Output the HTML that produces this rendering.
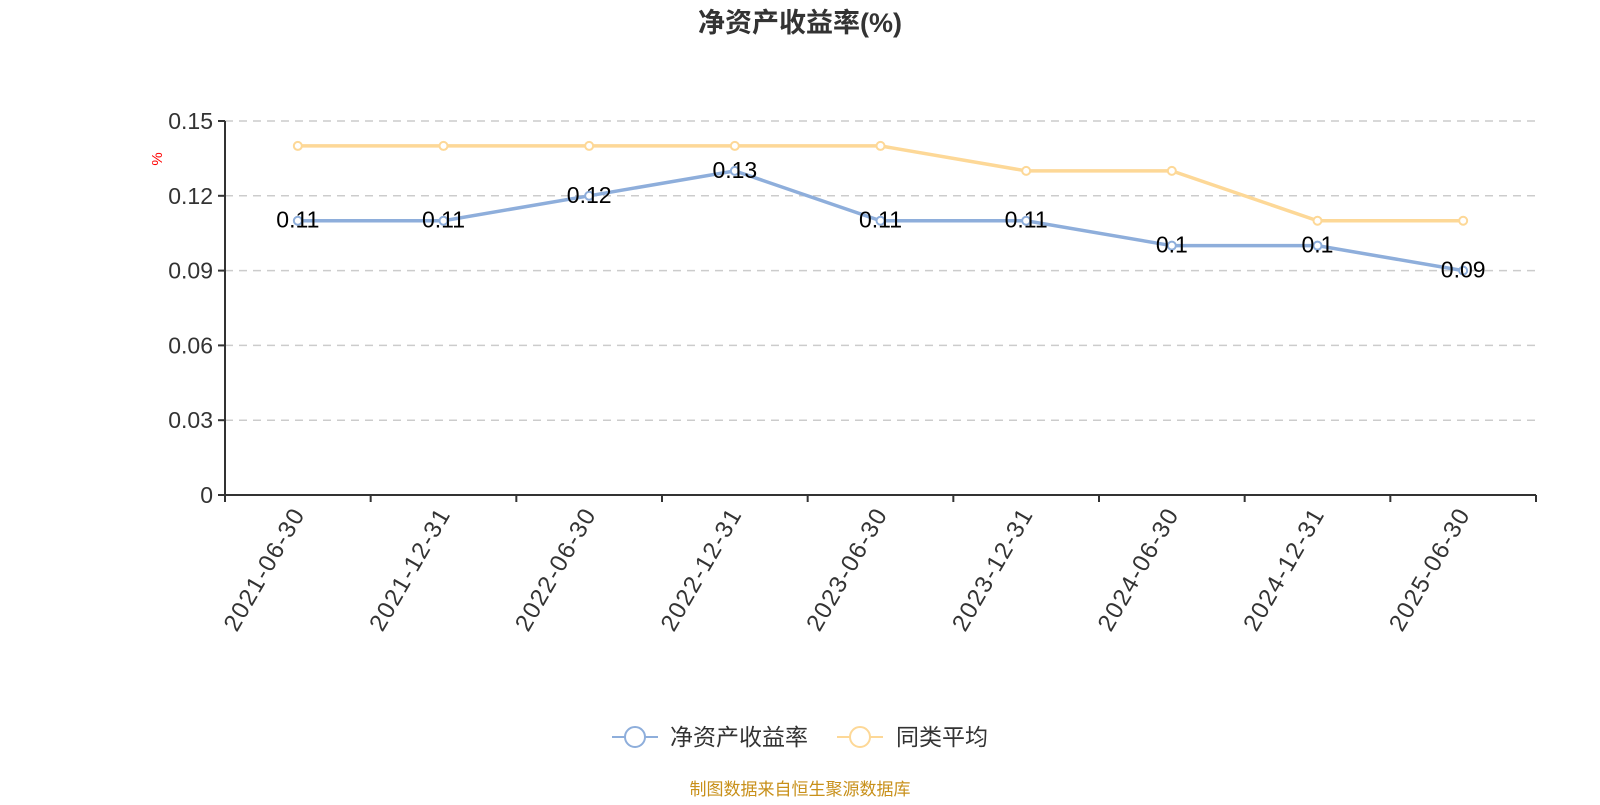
<!DOCTYPE html>
<html><head><meta charset="utf-8"><style>
body{margin:0;background:#fff;width:1600px;height:800px;overflow:hidden;font-family:"Liberation Sans","Noto Sans CJK SC",sans-serif}
</style></head><body>
<svg id="c" width="1600" height="800" xmlns="http://www.w3.org/2000/svg" font-family="Liberation Sans, Noto Sans CJK SC, sans-serif">
<text x="800" y="32" text-anchor="middle" font-size="27" font-weight="bold" fill="#333">净资产收益率(%)</text>
<text x="165" y="162" font-size="15" fill="red" transform="rotate(-90 162 162)" text-anchor="middle">%</text>
<g id="grid"></g><g id="axes"></g><g id="series"></g>
<g>
<g>
<line x1="612" y1="737" x2="658" y2="737" stroke="#8eaedb" stroke-width="2"/>
<circle cx="635" cy="737" r="10" fill="#fff" stroke="#8eaedb" stroke-width="2"/>
<text x="670" y="745" font-size="23" fill="#333">净资产收益率</text></g>
<g>
<line x1="837" y1="737" x2="883" y2="737" stroke="#fdd897" stroke-width="2"/>
<circle cx="860" cy="737" r="10" fill="#fff" stroke="#fdd897" stroke-width="2"/>
<text x="896" y="745" font-size="23" fill="#333">同类平均</text></g>
</g>
<text x="800" y="795" text-anchor="middle" font-size="17" fill="#c8901a">制图数据来自恒生聚源数据库</text>
</svg>
<script>
const categories=["2021-06-30","2021-12-31","2022-06-30","2022-12-31","2023-06-30","2023-12-31","2024-06-30","2024-12-31","2025-06-30"];
const roeValues=[0.11,0.11,0.12,0.13,0.11,0.11,0.1,0.1,0.09];
const avgValues=[0.14,0.14,0.14,0.14,0.14,0.13,0.13,0.11,0.11];
const yTicks=[0,0.03,0.06,0.09,0.12,0.15];
const yTickLabels=["0","0.03","0.06","0.09","0.12","0.15"];
const NS="http://www.w3.org/2000/svg";
const L=225,R=1536,T=121,B=495,yMax=0.15;
const bw=(R-L)/categories.length;
const xs=i=>L+bw*(i+0.5);
const ys=v=>B-(v/yMax)*(B-T);
function mk(tag,attrs,parent){const e=document.createElementNS(NS,tag);for(const k in attrs)e.setAttribute(k,attrs[k]);parent.appendChild(e);return e;}
const grid=document.getElementById('grid'),axes=document.getElementById('axes'),ser=document.getElementById('series');
yTicks.forEach((t,i)=>{
 const y=ys(t);
 if(t>0){const g=mk('line',{x1:L,x2:R,y1:y,y2:y,stroke:'#ccc','stroke-dasharray':'8,6','stroke-width':1.5},grid);
 
 }
 mk('line',{x1:L-7,x2:L,y1:y,y2:y,stroke:'#333','stroke-width':2},axes);
 const tx=mk('text',{x:L-12,y:y+8,'text-anchor':'end','font-size':23,fill:'#333'},axes);
 tx.textContent=yTickLabels[i];
 
 
});
mk('line',{x1:L,x2:L,y1:T,y2:B,stroke:'#333','stroke-width':2},axes);
mk('line',{x1:L,x2:R,y1:B,y2:B,stroke:'#333','stroke-width':2},axes);
for(let i=0;i<=categories.length;i++){const x=L+bw*i;mk('line',{x1:x,x2:x,y1:B,y2:B+7,stroke:'#333','stroke-width':2},axes);}
categories.forEach((c,i)=>{
 const x=xs(i),y=B+14;
 const t=mk('text',{x:x,y:y,'text-anchor':'end','font-size':24,'letter-spacing':1.5,fill:'#333',transform:`rotate(-60 ${x} ${y}) translate(0 9)`},axes);
 t.textContent=c;
 
 
});
function series(vals,color,name,labels){
 const p=mk('polyline',{points:vals.map((v,i)=>xs(i)+','+ys(v)).join(' '),fill:'none',stroke:color,'stroke-width':3.5},ser);
 
 
 vals.forEach((v,i)=>{
  const c=mk('circle',{cx:xs(i),cy:ys(v),r:4,fill:'#fff',stroke:color,'stroke-width':2},ser);
  
  
  if(labels){const t=mk('text',{x:xs(i),y:ys(v)+7,'text-anchor':'middle','font-size':23,fill:'#000'},ser);
   t.textContent=String(v);
   
   }
 });
}
series(avgValues,'#fdd897','peer-average',false);
series(roeValues,'#8eaedb','roe',true);
</script>
</body></html>
